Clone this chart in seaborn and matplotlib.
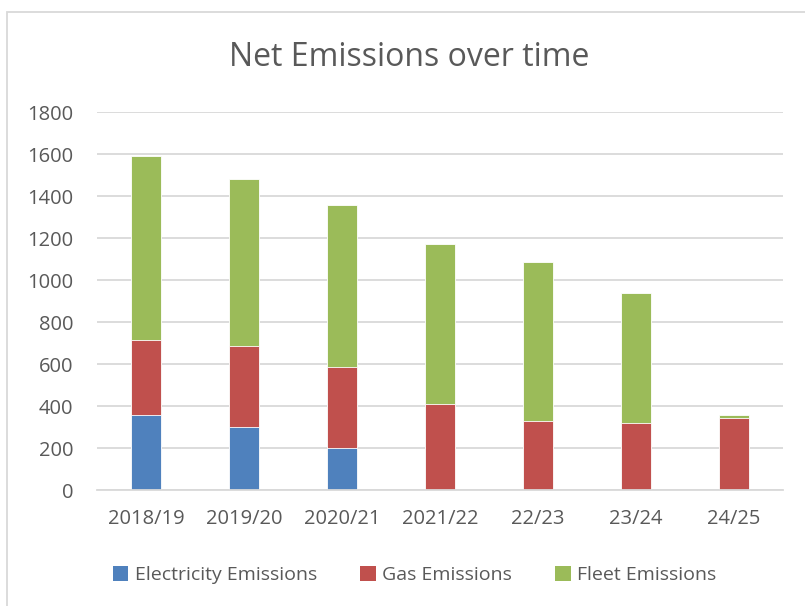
import matplotlib
matplotlib.use("Agg")
import matplotlib.pyplot as plt
import seaborn as sns
import pandas as pd
import numpy as np
from matplotlib.patches import Rectangle, Patch

years = ["2018/19", "2019/20", "2020/21", "2021/22", "22/23", "23/24", "24/25"]
electricity = [355, 300, 200, 0, 0, 0, 0]
gas = [360, 385, 385, 410, 330, 320, 345]
fleet = [875, 795, 770, 760, 755, 620, 12]
series_names = ["Electricity Emissions", "Gas Emissions", "Fleet Emissions"]
colors = ["#4F81BD", "#C0504D", "#9BBB59"]
yticks = [0, 200, 400, 600, 800, 1000, 1200, 1400, 1600, 1800]

sns.set_theme(style="white")
plt.rcParams["font.family"] = ["Open Sans", "DejaVu Sans"]
text_color = "#595959"

fig = plt.figure(figsize=(8.05, 6.06), dpi=100)
ax = fig.add_axes([97 / 805, 1 - 490 / 606, 686 / 805, 378 / 606])

# stacked bars: draw cumulative totals from the top layer downwards
layers = [electricity, gas, fleet]
cum = np.cumsum(np.array(layers), axis=0)
df = pd.DataFrame({"year": years})
for i in reversed(range(3)):
    df["v"] = cum[i]
    sns.barplot(data=df, x="year", y="v", color=colors[i], width=0.31,
                saturation=1, edgecolor="#ffffff", linewidth=0.6, ax=ax,
                errorbar=None)

ax.set_ylim(0, 1800)
ax.set_xlim(-0.5, len(years) - 0.5)
ax.set_yticks(yticks)
ax.set_yticklabels([str(t) for t in yticks])
ax.set_xlabel("")
ax.set_ylabel("")
ax.grid(axis="y", color="#D9D9D9", linewidth=1.3)
ax.set_axisbelow(True)
for s in ["left", "right", "top"]:
    ax.spines[s].set_visible(False)
ax.spines["bottom"].set_color("#D9D9D9")
ax.spines["bottom"].set_linewidth(1.3)
ax.tick_params(axis="y", length=0, pad=17, labelsize=14.5, labelcolor=text_color)
ax.tick_params(axis="x", length=0, pad=14, labelsize=14.5, labelcolor=text_color)

fig.text(0.508, 1 - 57 / 606, "Net Emissions over time", ha="center", va="center",
         fontsize=23, color=text_color)

handles = [Patch(facecolor=c, edgecolor="none") for c in colors]
fig.legend(handles, series_names, loc="center", bbox_to_anchor=(0.515, 1 - 575 / 606),
           ncol=3, frameon=False, fontsize=14, labelcolor=text_color,
           handlelength=0.8, handleheight=0.8, handletextpad=0.35, columnspacing=2.2)

# chart-area border
fig.patches.append(Rectangle((7 / 805, -0.05), 1.05, 1 - 12 / 606 + 0.05,
                             transform=fig.transFigure, fill=False,
                             edgecolor="#D9D9D9", linewidth=1.3))

fig.savefig("out.png", dpi=100)
